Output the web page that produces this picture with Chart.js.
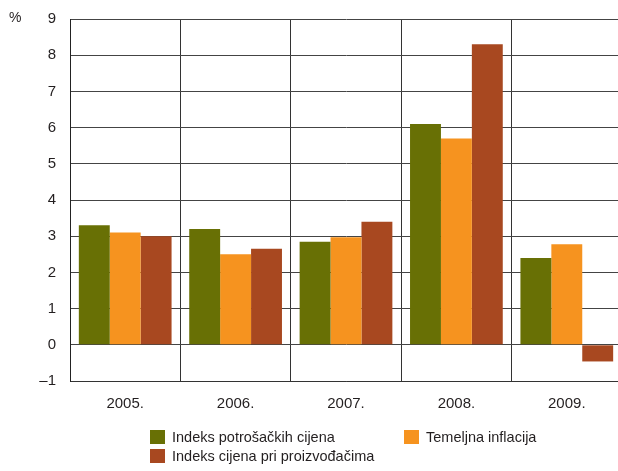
<!DOCTYPE html>
<html>
<head>
<meta charset="utf-8">
<script src="https://cdn.jsdelivr.net/npm/chart.js@4"></script>
<style>
  html, body { margin: 0; padding: 0; background: #fff; overflow: hidden; }
  #wrap { position: relative; width: 618px; height: 471px; overflow: hidden; font-family: "Liberation Sans", Arial, sans-serif; color: #231f20; }
  #c { position: absolute; left: 0; top: -4px; }
  #unit { position: absolute; left: 9px; top: 9px; font-size: 14px; }
  .leg { position: absolute; font-size: 14.5px; line-height: 16px; white-space: nowrap; }
  .leg i { position: absolute; left: 0; top: 0; width: 15px; height: 14px; }
  .leg span { position: absolute; left: 22px; top: -1px; }
</style>
</head>
<body>
<div id="wrap">
  <canvas id="c" width="622" height="475"></canvas>
  <div id="unit">%</div>
  <div id="legend"></div>
</div>
<script>
// Godine i stope (%)
const godine = ["2005.", "2006.", "2007.", "2008.", "2009."];
const potrosacke = [3.3, 3.2, 2.85, 6.1, 2.4];
const temeljna = [3.1, 2.5, 2.97, 5.7, 2.78];
const proizvodjaci = [3.0, 2.65, 3.4, 8.3, -0.46];
const nazivi = ["Indeks potrošačkih cijena", "Temeljna inflacija", "Indeks cijena pri proizvođačima"];
const boje = ["#687005", "#f6931f", "#a84820"];

const font = { family: "'Liberation Sans', Arial, sans-serif", size: 15 };

const chart = new Chart(document.getElementById("c"), {
  type: "bar",
  data: {
    labels: godine,
    datasets: [potrosacke, temeljna, proizvodjaci].map((d, i) => ({
      label: nazivi[i],
      data: d,
      backgroundColor: boje[i],
      borderWidth: 0,
      barPercentage: 1,
      categoryPercentage: 0.84,
    })),
  },
  options: {
    responsive: false,
    animation: false,
    layout: { padding: 0 },
    plugins: { legend: { display: false }, tooltip: { enabled: false } },
    scales: {
      x: {
        grid: { offset: true, color: "#333", lineWidth: 1, drawTicks: false },
        border: { color: "#333" },
        ticks: { color: "#231f20", font, padding: 14 },
        afterFit: (s) => { s.height = 90; },
      },
      y: {
        min: -1,
        max: 9,
        grid: { color: "#444", lineWidth: 1, drawTicks: false },
        border: { color: "#222" },
        ticks: {
          stepSize: 1,
          color: "#231f20",
          font,
          padding: 14,
          callback: (v) => (v < 0 ? "\u2013" + Math.abs(v) : v),
        },
        afterFit: (s) => { s.width = 70; },
      },
    },
  },
});

// Legenda u dva stupca
const pozicije = [[150, 430], [404, 430], [150, 449]];
const leg = document.getElementById("legend");
nazivi.forEach((n, i) => {
  const d = document.createElement("div");
  d.className = "leg";
  d.style.left = pozicije[i][0] + "px";
  d.style.top = pozicije[i][1] + "px";
  d.innerHTML = `<i style="background:${boje[i]}"></i><span>${n}</span>`;
  leg.appendChild(d);
});
</script>
</body>
</html>
